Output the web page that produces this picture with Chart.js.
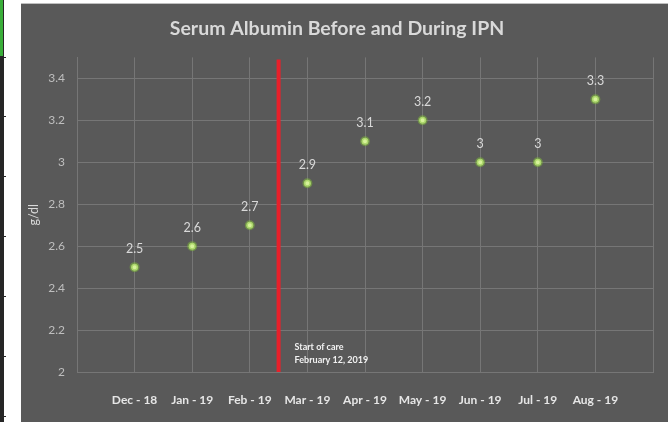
<!DOCTYPE html>
<html>
<head>
<meta charset="utf-8">
<script src="https://cdn.jsdelivr.net/npm/chart.js@4"></script>
<style>
  html, body { margin: 0; padding: 0; background: #ffffff; }
  body { width: 668px; height: 422px; position: relative; overflow: hidden; }
  .cell-line { position: absolute; left: 0; top: 0; width: 4px; height: 422px; background: #262626; }
  .cell-green { position: absolute; left: 0; top: 0; width: 3px; height: 56px; background: #3aae3a; }
  .cell-tick { position: absolute; left: 0; width: 6px; height: 1px; background: #262626; }
  .chart-edge { position: absolute; left: 21px; top: 3px; width: 647px; height: 1px; background: #bfbfbf; }
  .chart-box { position: absolute; left: 21px; top: 4px; width: 647px; height: 418px; background: #595959; }
  canvas { display: block; }
</style>
</head>
<body>
<div class="cell-line"></div>
<div class="cell-green"></div>
<div class="cell-tick" style="top:57px"></div>
<div class="cell-tick" style="top:116px"></div>
<div class="cell-tick" style="top:176px"></div>
<div class="cell-tick" style="top:236px"></div>
<div class="cell-tick" style="top:296px"></div>
<div class="cell-tick" style="top:356px"></div>
<div class="cell-tick" style="top:416px"></div>
<div class="chart-edge"></div>
<div class="chart-box"><canvas id="chart" width="647" height="418"></canvas></div>
<script>
const months = ['Dec - 18', 'Jan - 19', 'Feb - 19', 'Mar - 19', 'Apr - 19', 'May - 19', 'Jun - 19', 'Jul - 19', 'Aug - 19'];
const albumin = [2.5, 2.6, 2.7, 2.9, 3.1, 3.2, 3, 3, 3.3];
const yTicks = [2, 2.2, 2.4, 2.6, 2.8, 3, 3.2, 3.4];
const careStart = 3.5;   // between Feb and Mar on the month axis
const careText = ['Start of care', 'February 12, 2019'];

const FONT = 'Lato, Calibri, sans-serif';
const gridColor = '#767676';

const points = albumin.map((v, i) => ({ x: i + 1, y: v }));

const labelPlugin = {
    id: 'labels',
    afterDatasetsDraw(chart) {
        const ctx = chart.ctx;
        const meta = chart.getDatasetMeta(1);
        ctx.save();
        ctx.font = '12.5px ' + FONT;
        ctx.fillStyle = '#d9d9d9';
        ctx.textAlign = 'center';
        ctx.textBaseline = 'middle';
        meta.data.forEach((pt, i) => {
            ctx.fillText(String(albumin[i]), pt.x, pt.y - 18);
        });

        const xs = chart.scales.x, ys = chart.scales.y;
        const tx = xs.getPixelForValue(careStart) + 16;
        const ty = ys.getPixelForValue(2);
        ctx.font = 'bold 9px ' + FONT;
        ctx.fillStyle = '#f2f2f2';
        ctx.textAlign = 'left';
        ctx.fillText(careText[0], tx, ty - 25);
        ctx.fillText(careText[1], tx, ty - 12);
        ctx.restore();
    }
};

new Chart(document.getElementById('chart'), {
    type: 'scatter',
    data: {
        datasets: [{
            type: 'line',
            data: [{ x: careStart, y: 2 }, { x: careStart, y: 3.49 }],
            borderColor: '#e8202a',
            borderWidth: 4,
            pointRadius: 0,
            order: 2
        }, {
            data: points,
            backgroundColor: '#d6f29a',
            borderColor: 'rgba(130, 190, 60, 0.5)',
            borderWidth: 3,
            pointRadius: 3.5,
            order: 1
        }]
    },
    options: {
        responsive: false,
        animation: false,
        layout: {
            padding: { left: 0, right: 15, top: 0, bottom: 0 }
        },
        plugins: {
            legend: { display: false },
            tooltip: { enabled: false },
            title: {
                display: true,
                text: 'Serum Albumin Before and During IPN',
                color: '#d9d9d9',
                font: { family: FONT, size: 19.5, weight: 'bold' },
                padding: { top: 13, bottom: 17 }
            }
        },
        scales: {
            x: {
                type: 'linear',
                min: 0,
                max: 10,
                afterBuildTicks: (axis) => {
                    axis.ticks = [];
                    for (let i = 0; i <= 10; i++) axis.ticks.push({ value: i });
                },
                afterFit: (axis) => {
                    axis.height = 50;
                    axis.paddingLeft = 0;
                    axis.paddingRight = 0;
                },
                grid: { color: gridColor, drawTicks: false },
                border: { color: gridColor },
                ticks: {
                    padding: 21,
                    maxRotation: 0,
                    autoSkip: false,
                    color: '#e6e6e6',
                    font: { family: FONT, size: 12, weight: 'bold' },
                    callback: (v) => months[v - 1] || ''
                }
            },
            y: {
                min: 2,
                max: 3.5,
                afterBuildTicks: (axis) => {
                    axis.ticks = yTicks.map(v => ({ value: v }));
                },
                afterFit: (axis) => { axis.width = 56; },
                grid: { color: gridColor, drawTicks: false },
                border: { color: gridColor },
                title: {
                    display: true,
                    text: 'g/dl',
                    color: '#d9d9d9',
                    font: { family: FONT, size: 12.5 },
                    padding: { top: 5, bottom: 0 }
                },
                ticks: {
                    padding: 12,
                    color: '#bfbfbf',
                    font: { family: FONT, size: 12 },
                    callback: (v) => String(v)
                }
            }
        }
    },
    plugins: [labelPlugin]
});
</script>
</body>
</html>
